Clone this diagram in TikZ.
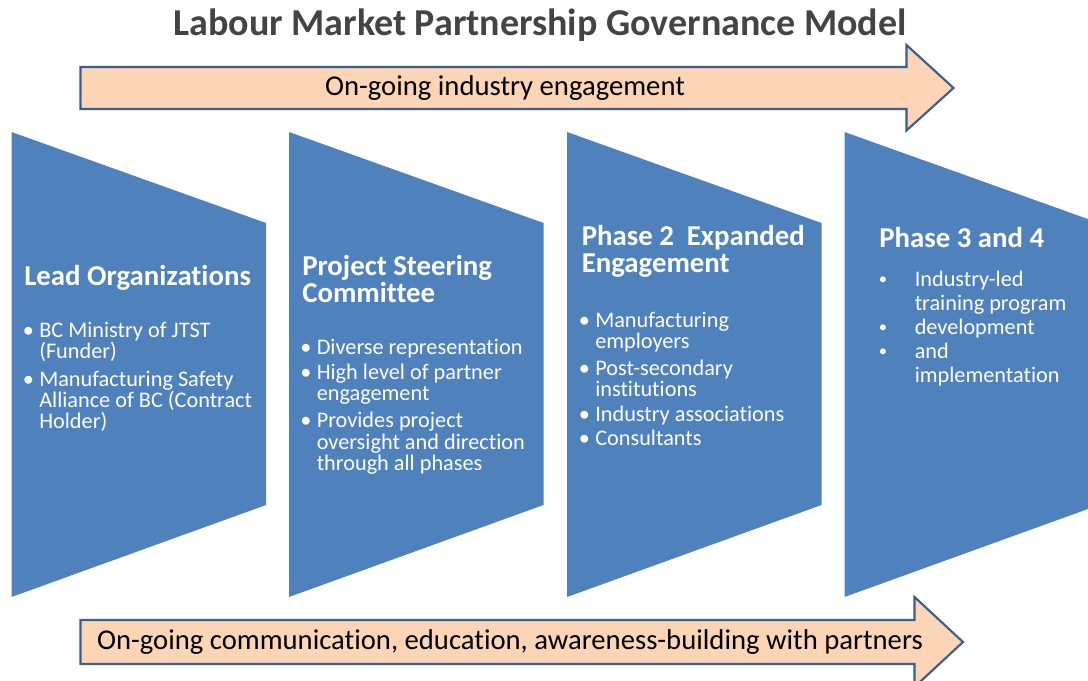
\documentclass[tikz,border=0pt]{standalone}
\usepackage{fontspec}
\setmainfont{Carlito}[Ligatures=NoCommon]
\definecolor{phaseblue}{HTML}{4F81BD}
\definecolor{peach}{HTML}{FBD5B5}
\definecolor{bandline}{HTML}{3B5E8C}
\definecolor{titlegray}{HTML}{444444}
% bullet hung to the left of the text start
\newcommand{\bulletmark}{\llap{\textbullet\hspace{4pt}}}
% smaller, farther bullet for the last block
\newcommand{\widebullet}{\llap{\makebox[27pt][l]{\raisebox{1.2pt}{\fontsize{12.5pt}{12.5pt}\selectfont\textbullet}}}}
\begin{document}
\begin{tikzpicture}[x=0.75pt,y=-0.75pt,
  titletext/.style={font=\fontsize{28.5pt}{32pt}\selectfont\bfseries, text=titlegray, inner sep=0, anchor=base},
  head/.style={font=\fontsize{21.6pt}{24pt}\selectfont\bfseries, text=white, inner sep=0, anchor=base west},
  body/.style={font=\fontsize{16.7pt}{19pt}\selectfont, text=white, inner sep=0, anchor=base west},
  bandtext/.style={font=\fontsize{21.5pt}{24pt}\selectfont, text=black, inner sep=0},
  band/.style={fill=peach, draw=bandline, line width=1.6pt, line join=miter},
  phase/.style={fill=phaseblue}]
\useasboundingbox (0,0) rectangle (1088,681);
\begin{scope}
\clip (0,0) rectangle (1088,681);

% title
\node[titletext] (title) at (540,36) {Labour Market Partnership Governance Model};

% top band arrow
\draw[band] (80.5,67) -- (906.5,67) -- (906.5,45) -- (953.5,88) -- (906.5,130.5)
  -- (906.5,109) -- (80.5,109) -- cycle;
\node[bandtext] (topband) at (505,88) {On-going industry engagement};

% four phase blocks
\foreach \lx in {11.5,289,567,844.5}
  \fill[phase] (\lx,132) -- ++(254.5,91) -- ++(0,282) -- ++(-254.5,92) -- cycle;

% bottom band arrow
\draw[band] (80.5,620) -- (914.5,620) -- (914.5,597) -- (963,642) -- (914.5,687)
  -- (914.5,664) -- (80.5,664) -- cycle;
\node[bandtext] (botband) at (510,642) {On-going communication, education, awareness-building with partners};
\end{scope}

% block 1
\node[head] (h1) at (24,285) {Lead Organizations};
\foreach \yy/\txt [count=\i] in {337/{\bulletmark BC Ministry of JTST},358/{(Funder)},
    386/{\bulletmark Manufacturing Safety},407/{Alliance of BC (Contract},428/{Holder)}}
  \node[body] (b1-\i) at (39,\yy) {\txt};

% block 2
\node[head] (h2a) at (302,275) {Project Steering};
\node[head] (h2b) at (302,302.5) {Committee};
\foreach \yy/\txt [count=\i] in {354/{\bulletmark Diverse representation},379/{\bulletmark High level of partner},
    400.5/{engagement},427/{\bulletmark Provides project},449/{oversight and direction},470.5/{through all phases}}
  \node[body] (b2-\i) at (316.5,\yy) {\txt};

% block 3
\node[head] (h3a) at (581.5,245) {Phase 2\ \ Expanded};
\node[head] (h3b) at (581.5,272.5) {Engagement};
\foreach \yy/\txt [count=\i] in {327/{\bulletmark Manufacturing},348/{employers},
    375/{\bulletmark Post-secondary},396/{institutions},421.5/{\bulletmark Industry associations},445/{\bulletmark Consultants}}
  \node[body] (b3-\i) at (595,\yy) {\txt};

% block 4
\node[head] (h4) at (879,247) {Phase 3 and 4};
\foreach \yy/\txt [count=\i] in {286/{\widebullet Industry-led},310/{training program},
    334/{\widebullet development},358/{\widebullet and},382/{implementation}}
  \node[body] (b4-\i) at (914.5,\yy) {\txt};
\end{tikzpicture}
\end{document}
